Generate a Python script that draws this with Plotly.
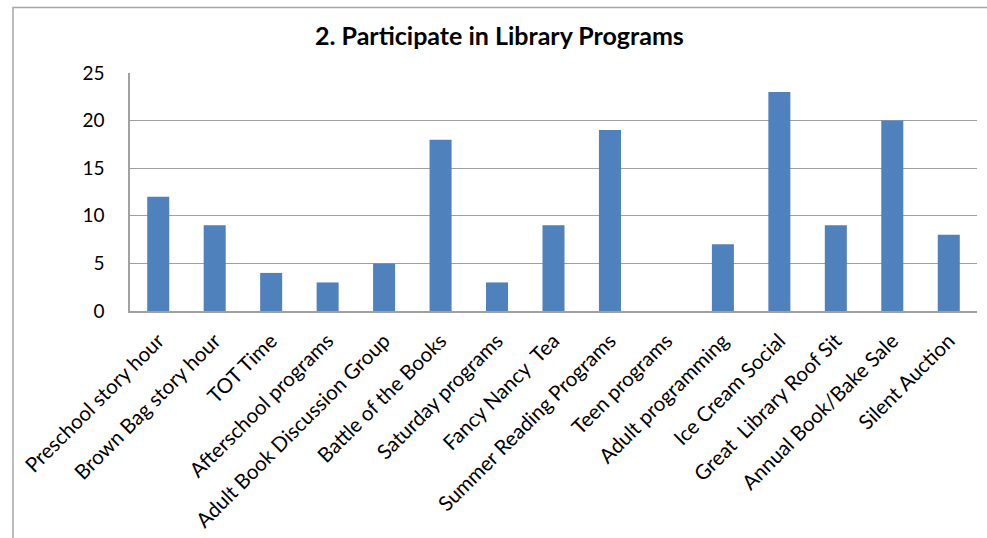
import plotly.graph_objects as go

categories = ["Preschool story hour", "Brown Bag story hour", "TOT Time", "Afterschool programs",
              "Adult Book Discussion Group", "Battle of the Books", "Saturday programs", "Fancy Nancy \u00a0Tea",
              "Summer Reading Programs", "Teen programs", "Adult programming", "Ice Cream Social",
              "Great \u00a0Library Roof Sit", "Annual Book/Bake Sale", "Silent Auction"]
values = [12, 9, 4, 3, 5, 18, 3, 9, 19, 0, 7, 23, 9, 20, 8]
y_ticks = [0, 5, 10, 15, 20, 25]

FONT = "Lato, Calibri, Carlito, sans-serif"

fig = go.Figure(go.Bar(x=categories, y=values, marker=dict(color="#4F81BD", line=dict(width=0)),
                       width=0.39))

fig.update_layout(
    width=987, height=538,
    margin=dict(l=130, r=10, t=73, b=227),
    paper_bgcolor="white", plot_bgcolor="white",
    showlegend=False,
    font=dict(family=FONT, size=16, color="black"),
    title=dict(text="<b>2. Participate in Library Programs</b>", x=0.506, xanchor="center",
               y=1 - 36 / 538, yanchor="middle", font=dict(family=FONT, size=25, color="black")),
    bargap=0.6,
)
fig.update_xaxes(tickangle=-45, showline=True, linecolor="#A0A0A0", linewidth=1.5,
                 showgrid=False, ticks="", tickfont=dict(size=20.5), automargin=False,
                 ticklabelstandoff=8)
fig.update_yaxes(range=[0, 25], tickvals=y_ticks, showline=True, linecolor="#A0A0A0", linewidth=1.5,
                 gridcolor="#A0A0A0", gridwidth=1.2, zeroline=False, ticks="", ticklabelstandoff=20,
                 tickfont=dict(size=19), automargin=False)

# chart frame
fig.add_shape(type="rect", xref="paper", yref="paper",
              x0=(13 - 130) / 847, x1=(1000 - 130) / 847,
              y0=-(560 - 311) / 238, y1=1 + (73 - 7.5) / 238,
              line=dict(color="#A6A6A6", width=1.5), layer="below")

fig.write_html("out.html", config={"displayModeBar": False},
               post_script="document.body.style.margin='0';")
